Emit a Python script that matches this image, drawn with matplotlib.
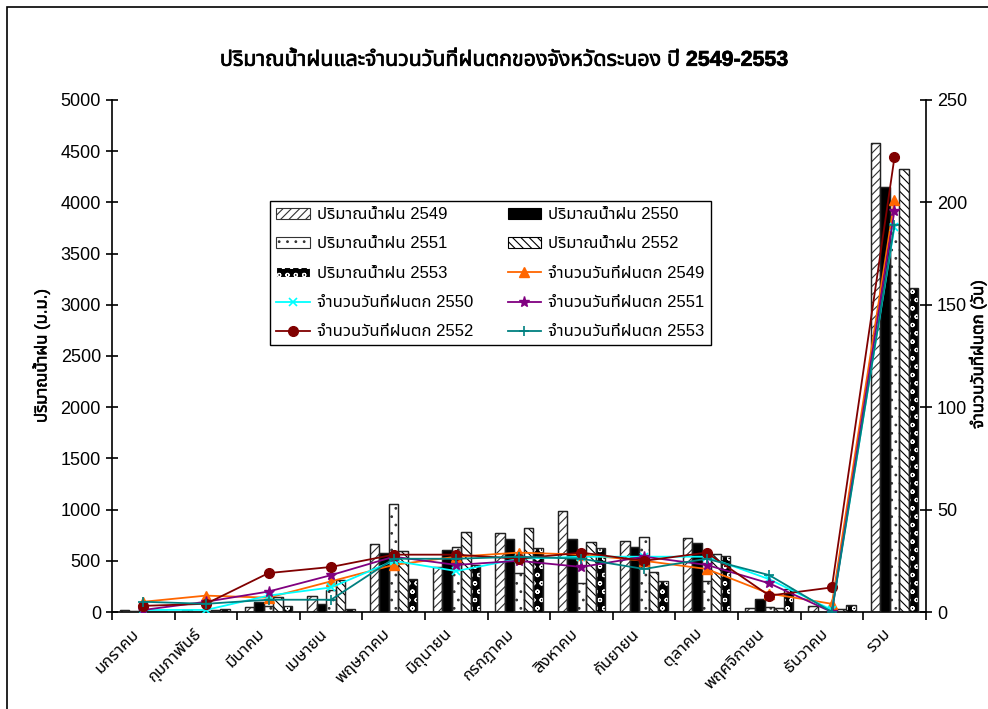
import numpy as np
import matplotlib
matplotlib.use("Agg")
import matplotlib.pyplot as plt
import matplotlib.patheffects as pe
import matplotlib.transforms as mtransforms
from matplotlib import font_manager
from matplotlib.ft2font import FT2Font
from matplotlib.patches import Patch, Rectangle

# ---------------------------------------------------------------- data
months = ["มกราคม", "กุมภาพันธ์", "มีนาคม", "เมษายน", "พฤษภาคม", "มิถุนายน",
          "กรกฎาคม", "สิงหาคม", "กันยายน", "ตุลาคม", "พฤศจิกายน", "ธันวาคม", "รวม"]

rain_2549 = [18, 20, 45, 160, 661, 443, 775, 990, 693, 726, 35, 59, 4579]
rain_2550 = [5, 0, 94, 81, 573, 605, 710, 710, 631, 671, 124, 0, 4150]
rain_2551 = [25, 5, 58, 215, 1055, 638, 384, 286, 737, 303, 50, 10, 3790]
rain_2552 = [10, 20, 150, 312, 599, 784, 817, 687, 394, 563, 36, 30, 4326]
rain_2553 = [12, 26, 55, 30, 319, 459, 622, 622, 306, 547, 221, 68, 3160]

days_2549 = [5, 8, 7, 15, 23, 27, 29, 28, 25, 21, 9, 4, 201]
days_2550 = [1, 1, 8, 12, 25, 20, 26, 27, 27, 27, 16, 1, 188]
days_2551 = [1, 5, 10, 18, 27, 23, 25, 22, 27, 23, 14, 0, 196]
days_2552 = [3, 4, 19, 22, 28, 28, 26, 29, 25, 29, 8, 12, 222]
days_2553 = [5, 4, 6, 6, 26, 26, 27, 26, 21, 26, 18, 0, 189]

rain_labels = ["ปริมาณน้ำฝน 2549", "ปริมาณน้ำฝน 2550", "ปริมาณน้ำฝน 2551",
               "ปริมาณน้ำฝน 2552", "ปริมาณน้ำฝน 2553"]
days_labels = ["จำนวนวันที่ฝนตก 2549", "จำนวนวันที่ฝนตก 2550", "จำนวนวันที่ฝนตก 2551",
               "จำนวนวันที่ฝนตก 2552", "จำนวนวันที่ฝนตก 2553"]
title = "ปริมาณน้ำฝนและจำนวนวันที่ฝนตกของจังหวัดระนอง ปี 2549-2553"
ylabel_left = "ปริมาณน้ำฝน (ม.ม.)"
ylabel_right = "จำนวนวันที่ฝนตก (วัน)"


# ---------------------------------------------------------------- fonts
def find_thai_family():
    preferred = ["Noto Sans Thai", "Noto Sans Thai UI", "Loma", "Garuda",
                 "Tlwg Typo", "Sarabun", "Tahoma", "DejaVu Sans"]
    found = {}
    for f in font_manager.fontManager.ttflist:
        if f.name in found:
            continue
        try:
            cmap = FT2Font(f.fname).get_charmap()
        except Exception:
            continue
        if 0x0E01 in cmap and 0x0E33 in cmap:
            found[f.name] = f.fname
    for p in preferred:
        if p in found:
            return p
    return next(iter(found), None)


thai = find_thai_family()
families = ["Liberation Sans"] + ([thai] if thai else []) + ["DejaVu Sans"]
plt.rcParams["font.family"] = families
plt.rcParams["hatch.linewidth"] = 0.8

# ---------------------------------------------------------------- figure
fig = plt.figure(figsize=(9.88, 7.09), dpi=100)
ax = fig.add_axes([0.1134, 0.1368, 0.8236, 0.7222])
ax2 = ax.twinx()

x = np.arange(len(months))
bw = 0.152
offsets = (np.arange(5) - 2) * bw

styles = [
    dict(facecolor="white", edgecolor="#333333", hatch="////"),
    dict(facecolor="black", edgecolor="black", hatch=None),
    dict(facecolor="white", edgecolor="#333333", hatch=".."),
    dict(facecolor="white", edgecolor="black", hatch="\\\\\\\\"),
    dict(facecolor="black", edgecolor="white", hatch="oo"),
]
rain_series = [rain_2549, rain_2550, rain_2551, rain_2552, rain_2553]
for vals, off, st in zip(rain_series, offsets, styles):
    ax.bar(x + off, vals, width=bw, linewidth=0.8, zorder=2, **st)
    ax.bar(x + off, vals, width=bw, fill=False, edgecolor="#222222",
           linewidth=1.0, zorder=3)

line_styles = [
    dict(color="#FF6600", marker="^", markersize=7),
    dict(color="#00FFFF", marker="x", markersize=6, markeredgewidth=1.2),
    dict(color="#800080", marker="*", markersize=8),
    dict(color="#800000", marker="o", markersize=7),
    dict(color="#008080", marker="+", markersize=7, markeredgewidth=1.2),
]
days_series = [days_2549, days_2550, days_2551, days_2552, days_2553]
line_handles = []
for vals, st, lab in zip(days_series, line_styles, days_labels):
    h, = ax2.plot(x, vals, linewidth=1.3, label=lab, **st)
    line_handles.append(h)

# axes limits and ticks
ax.set_xlim(-0.5, len(months) - 0.5)
ax.set_ylim(0, 5000)
ax2.set_ylim(0, 250)
ax.set_yticks(np.arange(0, 5001, 500))
ax2.set_yticks(np.arange(0, 251, 50))
ax.set_xticks(np.arange(-0.5, len(months)))
ax.set_xticklabels([])
ax.set_xticks(x, minor=True)
ax.tick_params(axis="x", which="major", direction="out", length=6, width=1.2)
ax.tick_params(axis="x", which="minor", length=0, pad=10)
ax.tick_params(axis="y", direction="inout", length=9, width=1.2, labelsize=13)
ax2.tick_params(axis="y", direction="inout", length=9, width=1.2, labelsize=13)
ax.set_xticklabels(months, minor=True, rotation=45, ha="right",
                   rotation_mode="anchor", fontsize=12)
shift = mtransforms.ScaledTranslation(-12 / 100, 0, fig.dpi_scale_trans)
for lbl in ax.get_xticklabels(minor=True):
    lbl.set_transform(lbl.get_transform() + shift)

for a in (ax, ax2):
    a.spines["top"].set_visible(False)
    for s in ("left", "right", "bottom"):
        a.spines[s].set_linewidth(1.2)
ax2.spines["left"].set_visible(False)
ax2.spines["bottom"].set_visible(False)
ax.spines["right"].set_visible(False)

ax.set_ylabel(ylabel_left, fontsize=12, labelpad=8,
              path_effects=[pe.withStroke(linewidth=0.4, foreground="black")])
fig.text(978 / 988, 0.5, ylabel_right, rotation=90, fontsize=12,
         ha="center", va="center",
         path_effects=[pe.withStroke(linewidth=0.4, foreground="black")])

fig.text(0.510, 0.915, title, fontsize=15.4, fontweight="bold",
         ha="center", va="center",
         path_effects=[pe.withStroke(linewidth=0.5, foreground="black")])

# chart area frame
fig.patches.append(Rectangle((7 / 988, -0.2), 1.2, 1 - 7 / 709 + 0.2,
                             transform=fig.transFigure, fill=False,
                             edgecolor="black", linewidth=1.2))

# legend in row-major order
rain_handles = [Patch(linewidth=0.8, **st) for st in styles]
items = list(zip(rain_handles, rain_labels)) + list(zip(line_handles, days_labels))
ordered = items[0::2] + items[1::2]
leg = fig.legend([h for h, _ in ordered], [l for _, l in ordered],
                 ncol=2, loc="upper left",
                 bbox_to_anchor=(262 / 988, 1 - 346 / 709, 457 / 988, 153 / 709),
                 mode="expand", fontsize=12, frameon=True, fancybox=False,
                 framealpha=1, edgecolor="black", handlelength=2.0,
                 handleheight=0.6, labelspacing=0.86, borderpad=0.35,
                 columnspacing=1.0, handletextpad=0.45)
leg.get_frame().set_linewidth(1.0)

fig.savefig("out.png", dpi=100)
